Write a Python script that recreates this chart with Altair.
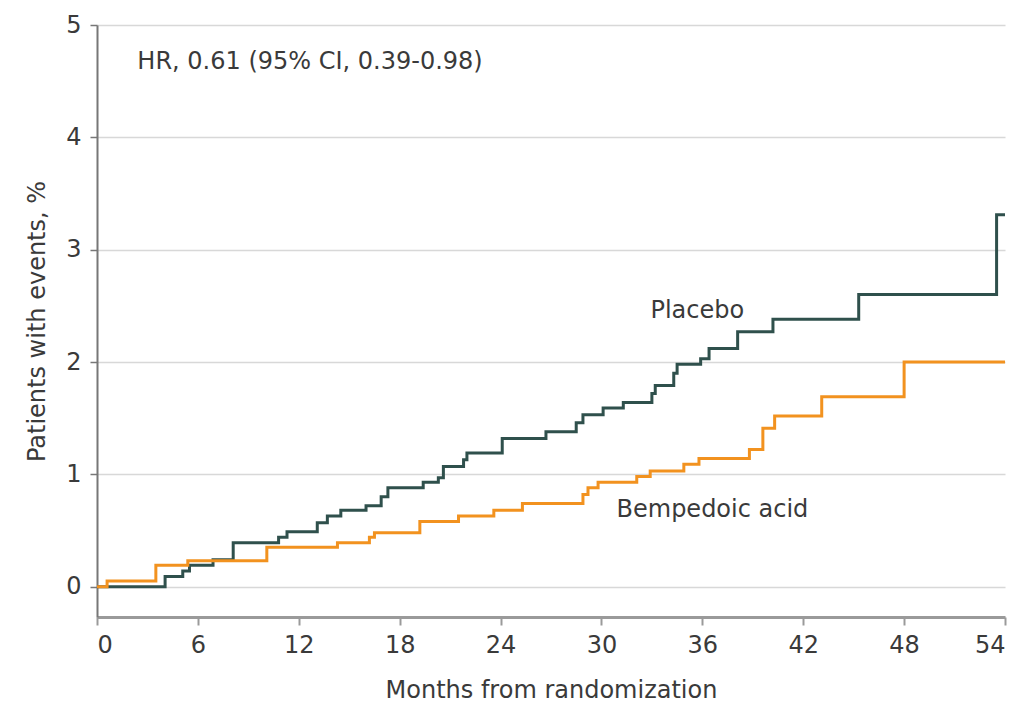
import altair as alt
import pandas as pd

# Kaplan-Meier style cumulative incidence
placebo_months = [0, 4.05, 5.1, 5.5, 6.9, 8.1, 10.8, 11.3, 13.1, 13.7, 14.5, 16.0, 16.9, 17.3,
                  19.4, 20.3, 20.6, 21.8, 22.0, 24.1, 26.7, 28.5, 28.9, 30.1, 31.3, 33.0, 33.2,
                  34.3, 34.5, 35.9, 36.4, 38.1, 40.2, 45.3, 53.5, 54.0]
placebo_pct = [0, 0.09, 0.14, 0.19, 0.24, 0.39, 0.44, 0.49, 0.57, 0.63, 0.68, 0.72, 0.80, 0.88,
               0.93, 0.97, 1.07, 1.13, 1.19, 1.32, 1.38, 1.46, 1.53, 1.59, 1.64, 1.72, 1.79,
               1.90, 1.98, 2.03, 2.12, 2.27, 2.38, 2.60, 3.31, 3.31]

bemp_months = [0, 0.6, 3.5, 5.4, 10.1, 14.3, 16.2, 16.5, 19.2, 21.5, 23.6, 25.3, 28.9, 29.2,
               29.8, 32.1, 32.9, 34.9, 35.8, 38.8, 39.6, 40.3, 43.1, 48.0, 54.0]
bemp_pct = [0, 0.05, 0.19, 0.23, 0.35, 0.39, 0.44, 0.48, 0.58, 0.63, 0.68, 0.74, 0.82, 0.88,
            0.93, 0.98, 1.03, 1.09, 1.14, 1.22, 1.41, 1.52, 1.69, 2.0, 2.0]

groups = ["Placebo", "Bempedoic acid"]
colors = ["#2f504c", "#f2921f"]

x_ticks = [0, 6, 12, 18, 24, 30, 36, 42, 48, 54]
y_ticks = [0, 1, 2, 3, 4, 5]

label_text = ["Placebo", "Bempedoic acid"]
label_month = [35.7, 36.6]
label_pct = [2.45, 0.68]

hr_text = ["HR, 0.61 (95% CI, 0.39-0.98)"]

df = pd.concat([
    pd.DataFrame({"month": placebo_months, "pct": placebo_pct, "group": "Placebo"}),
    pd.DataFrame({"month": bemp_months, "pct": bemp_pct, "group": "Bempedoic acid"}),
])

FONT = "DejaVu Sans"
FS = 24
TXT = "#3a3a3a"

x = alt.X("month:Q", scale=alt.Scale(domain=[0, 54], nice=False, zero=False),
          axis=alt.Axis(values=x_ticks, grid=False, title="Months from randomization",
                        domainColor="#9a9a9a", domainWidth=3, tickColor="#9a9a9a", tickWidth=2,
                        tickSize=8, labelFontSize=FS, labelFont=FONT, labelColor=TXT,
                        labelPadding=8, titleFontSize=FS, titleFont=FONT, titleColor=TXT,
                        titleFontWeight="normal", titlePadding=21))
y = alt.Y("pct:Q", scale=alt.Scale(domain=[-0.27, 5], nice=False, zero=False),
          axis=alt.Axis(values=y_ticks, format="d", grid=True, gridColor="#d8d8d8", gridWidth=1.5,
                        title="Patients with events, %", domainColor="#777", domainWidth=2,
                        tickColor="#777", tickWidth=1.5, tickSize=7, labelFontSize=FS,
                        labelFont=FONT, labelColor=TXT, labelPadding=9, titleFontSize=FS,
                        titleFont=FONT, titleColor=TXT, titleFontWeight="normal",
                        titlePadding=16))

lines = alt.Chart(df).mark_line(interpolate="step-after", strokeWidth=3).encode(
    x=x, y=y,
    color=alt.Color("group:N", scale=alt.Scale(domain=groups, range=colors), legend=None),
)

labels = alt.Chart(pd.DataFrame({"t": label_text, "m": label_month, "p": label_pct})).mark_text(
    fontSize=FS, font=FONT, color=TXT, align="center", baseline="middle"
).encode(x="m:Q", y="p:Q", text="t:N")

hr = alt.Chart(pd.DataFrame({"t": hr_text, "m": [2.4], "p": [4.67]})).mark_text(
    fontSize=FS, font=FONT, color=TXT, align="left", baseline="middle"
).encode(x="m:Q", y="p:Q", text="t:N")

chart = alt.layer(lines, labels, hr).properties(
    width=908, height=592,
    autosize=alt.AutoSizeParams(type="none"),
    padding={"left": 89, "top": 17, "right": 12, "bottom": 92},
).configure_view(stroke=None)

chart.save("out.html", embed_options={"renderer": "svg", "actions": False})
